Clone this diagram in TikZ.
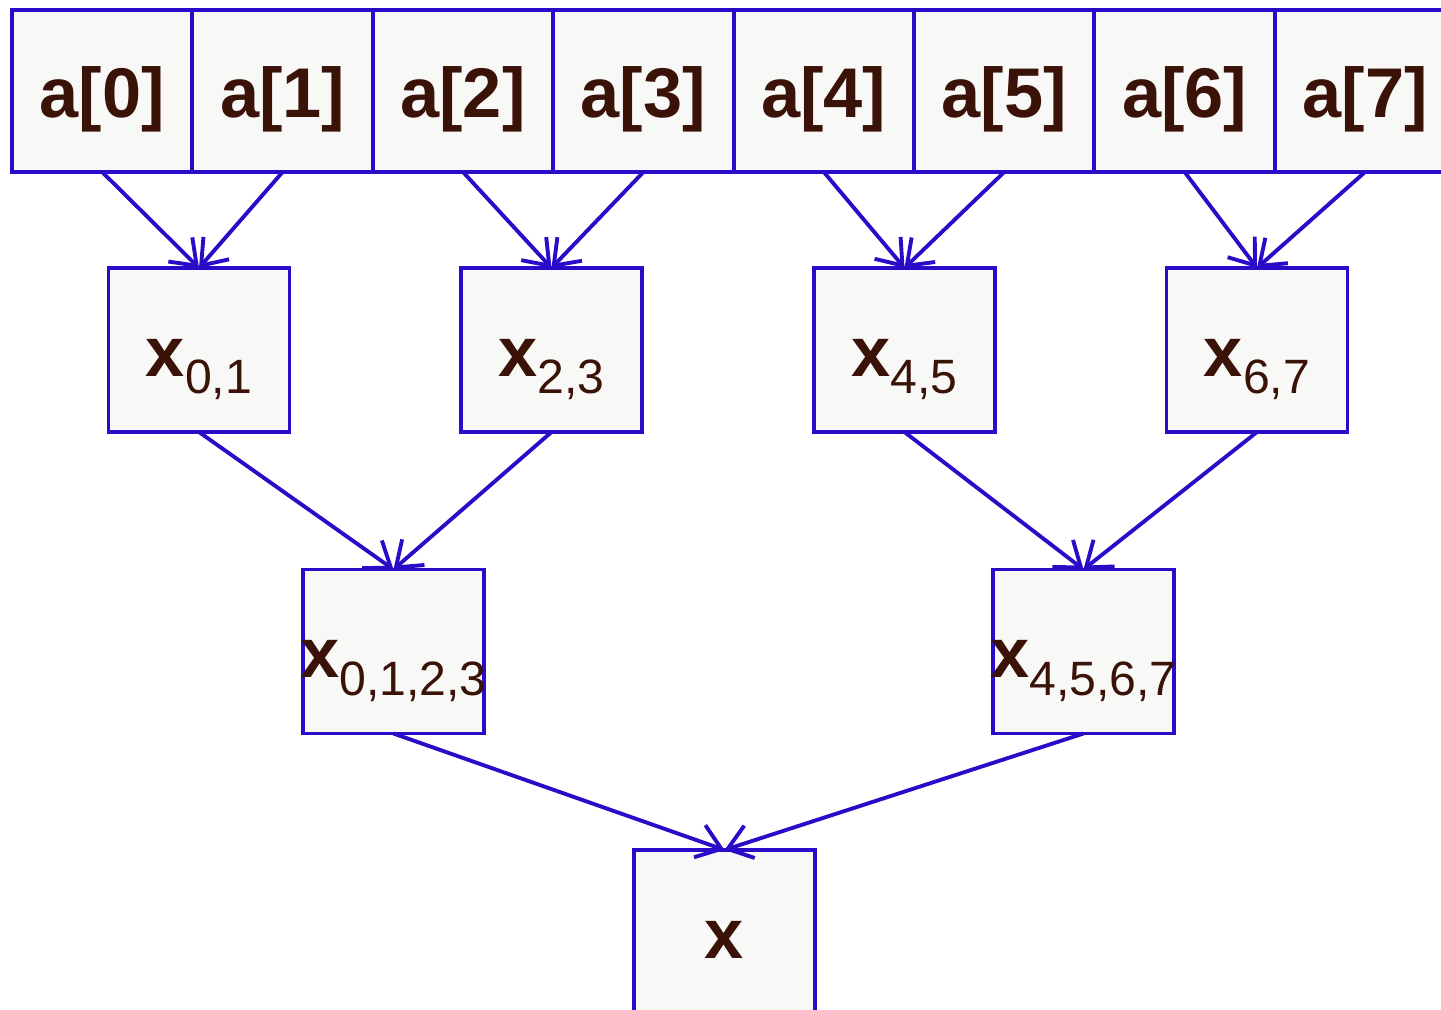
\documentclass[tikz,border=0pt]{standalone}
\usepackage{fontspec}
\setmainfont{Liberation Sans}
\usetikzlibrary{arrows.meta, positioning}
\definecolor{edgeblue}{RGB}{40,12,200}
\definecolor{txtbrown}{RGB}{58,18,8}
\definecolor{boxfill}{RGB}{248,248,246}
% text sits a bit below the middle of each box and may stick out of it
\newcommand{\celltxt}[1]{\raisebox{-7.4pt}[0pt][0pt]{\makebox[0pt]{#1}}}
\newcommand{\xsub}[1]{\celltxt{x{\fontsize{13.7}{16}\selectfont\mdseries\raisebox{-5.1pt}{#1}}}}
\tikzset{
  arr/.style = {draw=edgeblue, fill=boxfill, line width=1.1pt, outer sep=0pt,
                inner sep=0pt, minimum width=1.803cm, minimum height=1.62cm,
                text=txtbrown, font=\fontsize{20}{24}\selectfont\bfseries},
  blk/.style = {arr, minimum width=1.81cm, minimum height=1.64cm},
  fl/.style  = {-{Straight Barb[length=2.3mm, width=3.4mm]}, draw=edgeblue,
                line width=1.1pt},
}
\begin{document}
\begin{tikzpicture}[x=0.01cm, y=-0.01cm]
    \clip (0,0) rectangle (1441,1010);
    % input array
    \node[arr] (a0) at (102.2,91) {\celltxt{a[0]}};
    \node[arr, right=0pt of a0] (a1) {\celltxt{a[1]}};
    \node[arr, right=0pt of a1] (a2) {\celltxt{a[2]}};
    \node[arr, right=0pt of a2] (a3) {\celltxt{a[3]}};
    \node[arr, right=0pt of a3] (a4) {\celltxt{a[4]}};
    \node[arr, right=0pt of a4] (a5) {\celltxt{a[5]}};
    \node[arr, right=0pt of a5] (a6) {\celltxt{a[6]}};
    \node[arr, right=0pt of a6] (a7) {\celltxt{a[7]}};
    % pairwise sums
    \node[blk] (x01) at (199,350) {\xsub{0,1}};
    \node[blk] (x23) at (551.5,350) {\xsub{2,3}};
    \node[blk] (x45) at (904.5,350) {\xsub{4,5}};
    \node[blk] (x67) at (1257,350) {\xsub{6,7}};
    % second level
    \node[blk] (x0123) at (393.5,651.5) {\xsub{0,1,2,3}};
    \node[blk] (x4567) at (1083.5,651.5) {\xsub{4,5,6,7}};
    % result
    \node[blk] (x) at (724.5,932) {\celltxt{x}};
    \draw[fl] (a0.south) -- (x01.north);
    \draw[fl] (a1.south) -- (x01.north);
    \draw[fl] (a2.south) -- (x23.north);
    \draw[fl] (a3.south) -- (x23.north);
    \draw[fl] (a4.south) -- (x45.north);
    \draw[fl] (a5.south) -- (x45.north);
    \draw[fl] (a6.south) -- (x67.north);
    \draw[fl] (a7.south) -- (x67.north);
    \draw[fl] (x01.south) -- (x0123.north);
    \draw[fl] (x23.south) -- (x0123.north);
    \draw[fl] (x45.south) -- (x4567.north);
    \draw[fl] (x67.south) -- (x4567.north);
    \draw[fl] (x0123.south) -- (x.north);
    \draw[fl] (x4567.south) -- (x.north);
\end{tikzpicture}
\end{document}
